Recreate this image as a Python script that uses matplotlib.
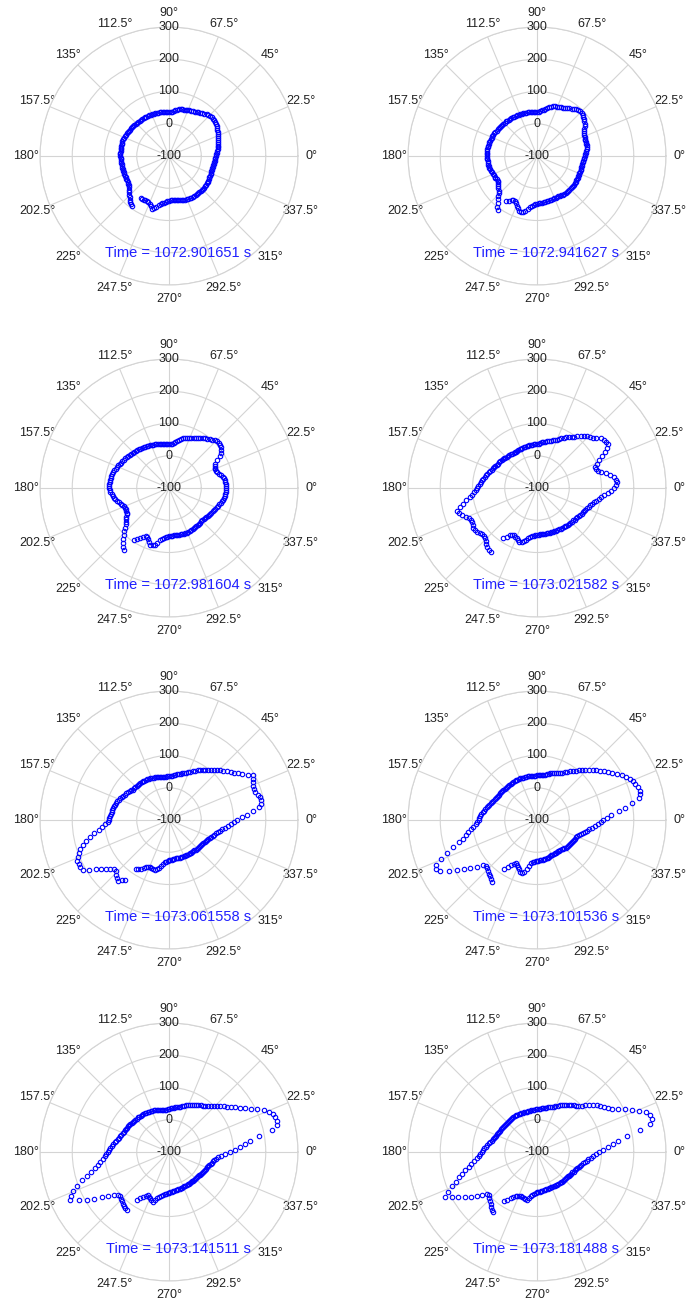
import numpy as np
import matplotlib
matplotlib.use('Agg')
import matplotlib.pyplot as plt

plt.rcParams['font.family'] = ['Liberation Sans', 'DejaVu Sans']

# sample angles (deg) used for every frame
THETA_DEG = np.arange(0, 360, 2)

TIME_S = ["1072.901651", "1072.941627", "1072.981604", "1073.021582",
          "1073.061558", "1073.101536", "1073.141511", "1073.181488"]

R_TICKS = [-100, 0, 100, 200, 300]
THETA_TICKS = [0, 22.5, 45, 67.5, 90, 112.5, 135, 157.5,
               180, 202.5, 225, 247.5, 270, 292.5, 315, 337.5]

# radius per frame, one value every 2 degrees (one row = 30 degrees)
R_1 = [45, 46, 48, 50, 52, 54, 56, 57, 59, 61, 62, 64, 66, 68, 70,
       72, 75, 77, 78, 79, 79, 79, 78, 76, 74, 71, 68, 66, 63, 61,
       59, 58, 56, 55, 53, 52, 51, 51, 50, 48, 45, 43, 40, 38, 37,
       36, 36, 36, 37, 37, 38, 38, 38, 38, 39, 39, 40, 40, 40, 40,
       41, 41, 41, 42, 42, 42, 43, 43, 43, 44, 44, 45, 46, 46, 47,
       48, 49, 49, 50, 51, 51, 52, 51, 51, 52, 51, 51, 51, 51, 51,
       51, 50, 50, 49, 49, 48, 49, 49, 49, 50, 49, 49, 50, 50, 50,
       50, 51, 53, 55, 58, 62, 66, 72, 76, 82, 86, 90, 93, 58, 57,
       57, 56, 56, 57, 60, 66, 72, 68, 62, 55, 50, 47, 45, 43, 41,
       39, 38, 38, 38, 39, 39, 40, 41, 42, 43, 44, 45, 45, 46, 46,
       46, 47, 47, 47, 47, 47, 47, 46, 46, 46, 46, 45, 45, 44, 44,
       43, 42, 41, 41, 40, 40, 40, 40, 40, 40, 41, 41, 42, 43, 44]
R_2 = [48, 50, 52, 54, 56, 57, 58, 58, 58, 58, 58, 59, 60, 63, 66,
       70, 74, 78, 82, 85, 88, 90, 92, 92, 92, 89, 86, 82, 78, 75,
       72, 70, 68, 66, 65, 64, 62, 59, 55, 51, 48, 45, 42, 39, 37,
       36, 36, 37, 37, 38, 38, 38, 39, 39, 39, 40, 40, 40, 40, 41,
       41, 41, 42, 42, 43, 43, 44, 44, 45, 45, 45, 46, 46, 47, 48,
       49, 50, 51, 52, 52, 53, 53, 54, 54, 55, 55, 55, 55, 55, 55,
       55, 55, 54, 54, 53, 53, 52, 52, 51, 51, 49, 48, 47, 46, 46,
       45, 44, 45, 48, 52, 56, 60, 65, 72, 80, 90, 100, 106, 70, 64,
       58, 56, 55, 60, 66, 72, 78, 80, 79, 74, 66, 61, 56, 53, 50,
       48, 47, 46, 45, 45, 44, 44, 43, 43, 42, 42, 42, 42, 42, 42,
       43, 43, 44, 44, 44, 44, 45, 45, 45, 45, 45, 45, 44, 44, 43,
       43, 43, 43, 42, 42, 42, 42, 42, 42, 43, 43, 44, 44, 45, 47]
R_3 = [76, 77, 76, 75, 74, 72, 70, 66, 60, 56, 54, 54, 55, 57, 60,
       72, 85, 94, 100, 104, 107, 108, 108, 106, 101, 97, 93, 90, 86, 83,
       80, 77, 74, 70, 67, 65, 63, 60, 56, 52, 48, 44, 40, 38, 36,
       36, 36, 37, 38, 39, 40, 41, 42, 42, 43, 43, 44, 45, 46, 47,
       48, 49, 50, 51, 52, 53, 54, 55, 56, 58, 59, 61, 62, 64, 65,
       67, 68, 70, 72, 74, 76, 78, 80, 82, 83, 84, 85, 85, 86, 86,
       86, 84, 82, 79, 76, 73, 70, 66, 62, 58, 55, 52, 49, 49, 50,
       52, 55, 59, 64, 70, 76, 84, 92, 102, 112, 122, 132, 136, 93, 86,
       80, 73, 66, 68, 72, 79, 86, 85, 82, 74, 65, 60, 56, 53, 51,
       50, 49, 48, 48, 48, 48, 48, 48, 49, 49, 49, 49, 48, 48, 47,
       47, 46, 46, 45, 45, 44, 44, 43, 43, 44, 45, 46, 48, 49, 51,
       52, 54, 55, 57, 59, 62, 64, 67, 69, 72, 73, 75, 76, 76, 76]
R_4 = [140, 145, 148, 146, 140, 130, 118, 106, 96, 93, 93, 100, 110, 125, 138,
       150, 158, 157, 155, 150, 140, 134, 128, 123, 118, 110, 103, 97, 92, 87,
       82, 77, 72, 67, 62, 59, 56, 53, 50, 48, 46, 44, 42, 40, 38,
       37, 36, 36, 35, 35, 35, 34, 34, 33, 33, 32, 32, 31, 31, 30,
       30, 30, 30, 31, 32, 33, 34, 35, 36, 37, 38, 39, 40, 42, 43,
       45, 46, 48, 50, 52, 55, 57, 60, 63, 66, 69, 72, 75, 78, 82,
       86, 90, 95, 102, 110, 122, 135, 147, 157, 153, 147, 139, 131, 129, 127,
       130, 134, 132, 130, 125, 121, 122, 123, 128, 135, 139, 142, 144, 86, 78,
       70, 66, 62, 65, 68, 72, 76, 73, 70, 64, 58, 54, 50, 48, 46,
       45, 45, 44, 44, 44, 44, 44, 44, 44, 44, 44, 44, 45, 45, 45,
       46, 46, 47, 47, 48, 48, 49, 49, 50, 50, 52, 53, 55, 56, 58,
       60, 61, 63, 64, 67, 70, 74, 78, 83, 88, 94, 100, 110, 120, 130]
R_5 = [112, 128, 142, 162, 183, 190, 192, 190, 186, 182, 179, 182, 186, 190, 194,
       182, 168, 158, 150, 142, 134, 127, 121, 115, 109, 103, 98, 92, 87, 82,
       78, 73, 68, 63, 59, 55, 52, 50, 48, 46, 44, 42, 40, 38, 37,
       36, 35, 35, 35, 36, 36, 37, 38, 39, 39, 40, 41, 42, 42, 43,
       44, 44, 44, 44, 45, 45, 45, 45, 46, 46, 47, 49, 51, 53, 56,
       58, 60, 62, 65, 67, 70, 72, 74, 75, 77, 78, 80, 81, 83, 85,
       86, 90, 98, 108, 119, 135, 150, 165, 178, 190, 198, 205, 211, 212, 212,
       208, 192, 174, 160, 148, 138, 128, 128, 135, 142, 145, 135, 130, 85, 80,
       74, 68, 62, 60, 58, 59, 60, 60, 58, 52, 44, 38, 32, 29, 27,
       25, 24, 23, 22, 22, 21, 21, 21, 21, 21, 21, 21, 21, 22, 22,
       22, 22, 23, 23, 23, 23, 24, 24, 24, 24, 25, 26, 27, 28, 30,
       32, 34, 36, 38, 41, 44, 47, 51, 56, 62, 68, 75, 83, 92, 102]
R_6 = [106, 118, 131, 155, 177, 200, 222, 228, 231, 229, 225, 220, 216, 207, 198,
       186, 175, 166, 158, 149, 140, 132, 124, 116, 109, 102, 94, 88, 83, 77,
       72, 66, 61, 59, 57, 54, 52, 50, 48, 45, 43, 42, 41, 40, 40,
       39, 38, 38, 38, 38, 38, 38, 38, 38, 38, 38, 39, 39, 39, 39,
       39, 39, 39, 39, 39, 39, 39, 39, 39, 40, 40, 40, 40, 41, 41,
       42, 43, 46, 48, 51, 53, 55, 58, 61, 64, 67, 70, 74, 77, 79,
       81, 85, 90, 98, 106, 116, 126, 138, 150, 174, 198, 222, 244, 248, 240,
       215, 194, 174, 155, 135, 118, 112, 116, 119, 124, 128, 132, 136, 85, 72,
       62, 55, 50, 53, 58, 63, 68, 72, 66, 56, 44, 36, 31, 29, 27,
       26, 26, 25, 25, 24, 24, 23, 22, 21, 20, 19, 18, 18, 17, 17,
       17, 16, 16, 17, 18, 19, 21, 22, 23, 24, 25, 26, 27, 28, 29,
       30, 31, 32, 33, 35, 40, 44, 48, 52, 57, 64, 72, 80, 90, 98]
R_7 = [88, 104, 120, 138, 155, 184, 228, 245, 248, 247, 242, 234, 222, 205, 187,
       172, 158, 147, 138, 129, 121, 114, 107, 100, 93, 87, 82, 78, 75, 72,
       70, 66, 63, 60, 57, 54, 51, 48, 45, 43, 41, 40, 38, 36, 35,
       34, 33, 32, 32, 32, 33, 34, 35, 36, 37, 38, 38, 39, 39, 40,
       41, 41, 42, 42, 43, 43, 44, 44, 45, 45, 46, 47, 48, 49, 50,
       51, 52, 53, 54, 55, 57, 59, 62, 64, 67, 70, 74, 78, 82, 86,
       90, 94, 99, 106, 115, 124, 135, 150, 165, 185, 205, 220, 232, 242, 215,
       195, 175, 149, 132, 118, 106, 106, 109, 112, 115, 118, 120, 122, 80, 70,
       60, 54, 48, 52, 55, 60, 62, 55, 48, 43, 38, 35, 32, 30, 28,
       26, 25, 24, 23, 22, 21, 20, 19, 19, 18, 18, 17, 17, 16, 16,
       16, 16, 16, 16, 16, 16, 17, 17, 17, 17, 18, 18, 19, 20, 21,
       22, 23, 24, 26, 28, 30, 32, 35, 37, 40, 43, 46, 52, 62, 74]
R_8 = [91, 106, 122, 138, 154, 182, 225, 262, 270, 268, 260, 240, 222, 204, 186,
       169, 160, 152, 143, 135, 126, 117, 108, 100, 92, 88, 84, 80, 76, 72,
       68, 64, 61, 57, 53, 50, 47, 45, 43, 41, 40, 38, 37, 35, 34,
       33, 32, 31, 31, 30, 30, 29, 29, 29, 29, 29, 29, 29, 30, 30,
       31, 31, 32, 32, 31, 31, 30, 30, 29, 29, 29, 29, 30, 31, 32,
       33, 34, 35, 35, 36, 37, 39, 42, 45, 49, 52, 56, 60, 65, 69,
       72, 76, 80, 88, 97, 107, 117, 130, 142, 155, 168, 185, 203, 217, 200,
       182, 165, 148, 130, 115, 102, 101, 106, 110, 115, 122, 128, 130, 84, 74,
       64, 58, 52, 49, 46, 46, 47, 49, 50, 52, 45, 39, 34, 30, 27,
       25, 24, 23, 22, 21, 20, 20, 19, 19, 18, 18, 18, 18, 18, 18,
       19, 19, 19, 19, 20, 20, 20, 20, 21, 21, 22, 23, 24, 25, 26,
       27, 29, 30, 32, 35, 37, 40, 43, 47, 51, 56, 61, 68, 75, 83]

FRAMES = [R_1, R_2, R_3, R_4, R_5, R_6, R_7, R_8]

W, H = 688, 1303
RAD_PX = 129
COL_X = [169, 537]
ROW_Y = [156, 488, 820, 1152]
GRID_C = '#d4d4d4'
TXT_C = '#222222'
PTS_C = '#0000ff'

fig = plt.figure(figsize=(W / 100, H / 100), dpi=100)

for i, (radii, t) in enumerate(zip(FRAMES, TIME_S)):
    cx, cy = COL_X[i % 2], ROW_Y[i // 2]
    ax = fig.add_axes([(cx - RAD_PX) / W, 1 - (cy + RAD_PX) / H,
                       2 * RAD_PX / W, 2 * RAD_PX / H], projection='polar')
    ax.set_ylim(R_TICKS[0], R_TICKS[-1])
    ax.set_yticks(R_TICKS[1:])
    ax.set_yticklabels([])
    ax.set_thetagrids(THETA_TICKS, labels=[f'{a:g}\u00b0' for a in THETA_TICKS])
    ax.tick_params(axis='x', pad=3, labelsize=9, labelcolor=TXT_C, length=0)
    ax.tick_params(axis='y', length=0)
    ax.grid(True, color=GRID_C, linewidth=0.8)
    ax.spines['polar'].set_color(GRID_C)
    ax.spines['polar'].set_linewidth(0.8)

    # radial tick labels stacked along the 90 degree spoke
    for rt in R_TICKS:
        ax.text(np.pi / 2, rt, str(rt), ha='center', va='center',
                fontsize=9, color=TXT_C)

    ax.plot(np.deg2rad(THETA_DEG), radii, linestyle='none', marker='o',
            markersize=3.2, markerfacecolor='none', markeredgecolor=PTS_C,
            markeredgewidth=0.8)

    ax.text(0.535, 0.125, f'Time = {t} s', transform=ax.transAxes,
            ha='center', va='center', fontsize=10.5, color='#2020ff')

fig.savefig('out.png', dpi=100)
